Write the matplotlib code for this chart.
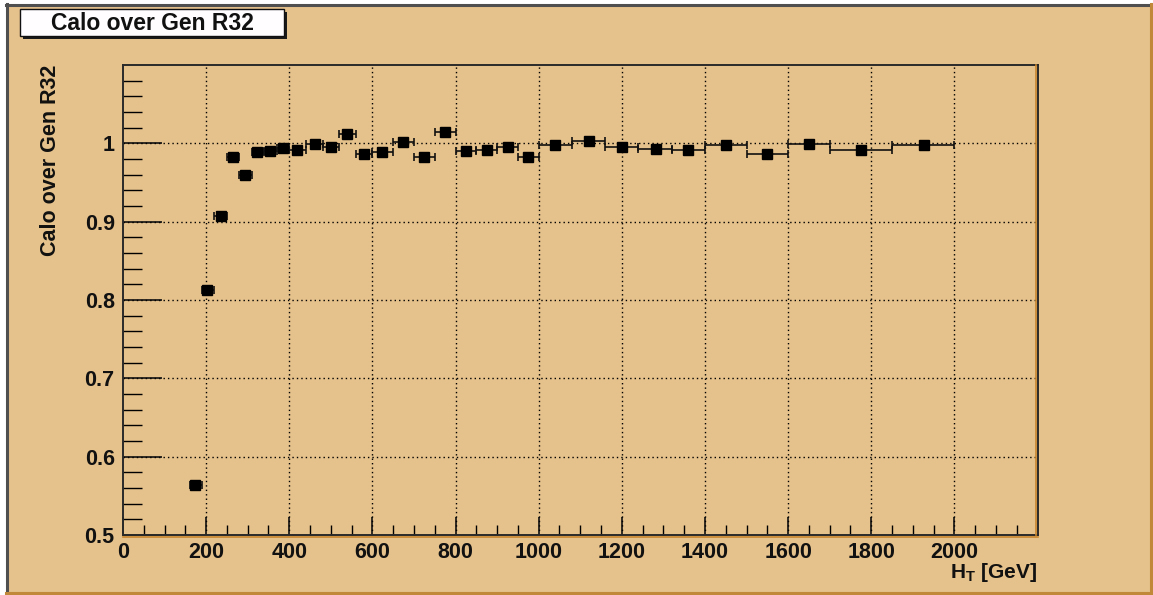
import matplotlib
matplotlib.use("Agg")
import matplotlib.pyplot as plt
from matplotlib.patches import Rectangle
from matplotlib.lines import Line2D

# ---------------- data ----------------
bin_lo = [160, 190, 220, 250, 280, 310, 340, 370, 400, 440, 480, 520, 560, 600, 650,
          700, 750, 800, 850, 900, 950, 1000, 1080, 1160, 1240, 1320, 1400, 1500, 1600,
          1700, 1850]
bin_hi = [190, 220, 250, 280, 310, 340, 370, 400, 440, 480, 520, 560, 600, 650, 700,
          750, 800, 850, 900, 950, 1000, 1080, 1160, 1240, 1320, 1400, 1500, 1600, 1700,
          1850, 2000]
ht_mean = [174, 202, 235, 264, 294, 322, 353, 385, 419, 461, 500, 539, 579, 624, 673,
           725, 775, 824, 876, 925, 974, 1040, 1121, 1200, 1282, 1360, 1451, 1549, 1651,
           1775, 1926]
ratio = [0.5637, 0.813, 0.9073, 0.983, 0.960, 0.9889, 0.990, 0.9936, 0.992, 0.9987,
         0.9953, 1.0125, 0.9868, 0.9885, 1.002, 0.983, 1.0144, 0.990, 0.9919, 0.9953,
         0.983, 0.9975, 1.0025, 0.9953, 0.9931, 0.9919, 0.9975, 0.9868, 0.9987, 0.9919,
         0.9975]

x_ticks = [0, 200, 400, 600, 800, 1000, 1200, 1400, 1600, 1800, 2000]
y_ticks = [0.5, 0.6, 0.7, 0.8, 0.9, 1.0]
y_ticklabels = ["0.5", "0.6", "0.7", "0.8", "0.9", "1"]
title = "Calo over Gen R32"
ylabel = "Calo over Gen R32"

# ---------------- style ----------------
W, H = 1153, 595
TAN = "#E5C18B"
plt.rcParams["font.family"] = ["Liberation Sans", "DejaVu Sans"]
plt.rcParams["font.weight"] = "bold"
plt.rcParams["mathtext.fontset"] = "custom"
plt.rcParams["mathtext.bf"] = "Liberation Sans:bold"
plt.rcParams["mathtext.rm"] = "Liberation Sans:bold"
plt.rcParams["mathtext.it"] = "Liberation Sans:bold"

def fx(px):
    return px / W

def fy(py):
    return 1 - py / H

fig = plt.figure(figsize=(W / 100, H / 100), dpi=100, facecolor="white")

# canvas panel with bevel border
fig.patches.append(Rectangle((fx(6), fy(594)), fx(1152) - fx(6), fy(4) - fy(594),
                             transform=fig.transFigure, facecolor=TAN, edgecolor="none", zorder=-5))
for (x0, y0, x1, y1, c) in [
    (6, 5, 1152, 5, "#4f4f4f"), (7, 4, 7, 594, "#4f4f4f"),
    (6, 593, 1152, 593, "#C08838"), (1151, 4, 1151, 594, "#C08838")]:
    fig.lines.append(Line2D([fx(x0), fx(x1)], [fy(y0), fy(y1)], transform=fig.transFigure,
                            color=c, linewidth=2.2, zorder=-4))

ax_left, ax_right, ax_top, ax_bottom = 123, 1037.5, 65, 535
ax = fig.add_axes([fx(ax_left), fy(ax_bottom), fx(ax_right) - fx(ax_left), fy(ax_top) - fy(ax_bottom)])
ax.set_zorder(2)
ax.set_facecolor(TAN)
ax.set_xlim(0, 2200)
ax.set_ylim(0.5, 1.1)

xerr = [[m - lo for m, lo in zip(ht_mean, bin_lo)], [hi - m for m, hi in zip(ht_mean, bin_hi)]]
ax.errorbar(ht_mean, ratio, xerr=xerr, fmt="s", color="black", ecolor="#111111",
            markersize=6.9, elinewidth=1.2, capsize=3.0, capthick=1.2, zorder=5)

# grid
for xv in x_ticks[1:]:
    ax.axvline(xv, color="black", linewidth=1.0, linestyle=(0, (1, 2.2)), zorder=2)
for yv in y_ticks[1:]:
    ax.axhline(yv, color="black", linewidth=1.0, linestyle=(0, (1, 2.2)), zorder=2)

ax.set_xticks(x_ticks)
ax.set_xticks([v for v in range(50, 2200, 50) if v % 200 != 0], minor=True)
ax.set_yticks(y_ticks)
ax.set_yticklabels(y_ticklabels)
ax.set_yticks([0.5 + 0.02 * i for i in range(31) if i % 5 != 0], minor=True)

ax.tick_params(axis="x", which="major", direction="in", length=13, width=1.2, pad=5,
               labelsize=15.5, colors="#111111", top=False)
ax.tick_params(axis="x", which="minor", direction="in", length=7, width=1.0, top=False)
ax.tick_params(axis="y", which="major", direction="in", length=28, width=1.2, pad=6,
               labelsize=15.5, colors="#111111", right=False)
ax.tick_params(axis="y", which="minor", direction="in", length=14, width=1.0, right=False)
for lab in ax.get_xticklabels() + ax.get_yticklabels():
    lab.set_fontweight("bold")

for s in ax.spines.values():
    s.set_color("#2a2a2a")
    s.set_linewidth(1.4)
    s.set_zorder(6)

# orange bevel of frame (bottom / right)
fig.lines.append(Line2D([fx(ax_left), fx(ax_right)], [fy(ax_bottom + 1.5), fy(ax_bottom + 1.5)],
                        transform=fig.transFigure, color="#C8862E", linewidth=1.2, zorder=3))
fig.lines.append(Line2D([fx(ax_right - 1.5), fx(ax_right - 1.5)], [fy(ax_top), fy(ax_bottom)],
                        transform=fig.transFigure, color="#C8862E", linewidth=1.2, zorder=3))

# axis titles
fig.text(fx(50.5), fy(65), ylabel, rotation=90, ha="center", va="top",
         fontsize=15.5, fontweight="bold", color="#111111")
fig.text(fx(1037.5), fy(578), r"$\mathbf{H}_{\mathbf{T}}$ [GeV]", ha="right", va="baseline",
         fontsize=15, fontweight="bold", color="#111111")

# title box with shadow
bx0, by0, bx1, by1 = 20, 9, 284, 36
fig.patches.append(Rectangle((fx(bx0 + 3), fy(by1 + 3)), fx(bx1) - fx(bx0), fy(by0) - fy(by1),
                             transform=fig.transFigure, facecolor="#1a1a1a", edgecolor="none", zorder=4))
fig.patches.append(Rectangle((fx(bx0), fy(by1)), fx(bx1) - fx(bx0), fy(by0) - fy(by1),
                             transform=fig.transFigure, facecolor="#FFFDFF", edgecolor="#111111",
                             linewidth=1.0, zorder=5))
fig.text(fx((bx0 + bx1) / 2), fy((by0 + by1) / 2 + 0.5), title, ha="center", va="center",
         fontsize=16.5, fontweight="bold", color="#111111", zorder=6)

fig.savefig("out.png", dpi=100, facecolor="white")
